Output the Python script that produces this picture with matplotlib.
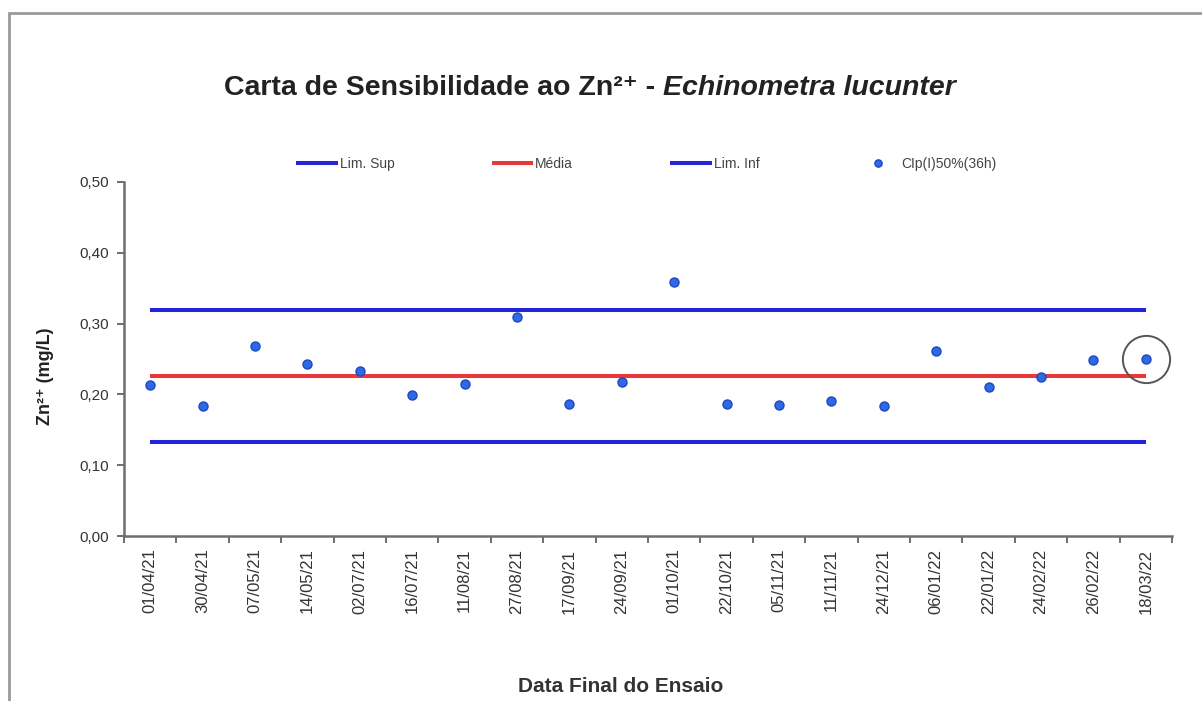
# Carta de sensibilidade ao Zn2+ - Echinometra lucunter
import numpy as np
import matplotlib
matplotlib.use("Agg")
import matplotlib.pyplot as plt
from matplotlib.patches import Rectangle
from matplotlib.ticker import FuncFormatter, FixedLocator

plt.rcParams["font.family"] = ["Liberation Sans", "DejaVu Sans"]

# data
datas = ["01/04/21", "30/04/21", "07/05/21", "14/05/21", "02/07/21",
         "16/07/21", "11/08/21", "27/08/21", "17/09/21", "24/09/21",
         "01/10/21", "22/10/21", "05/11/21", "11/11/21", "24/12/21",
         "06/01/22", "22/01/22", "24/02/22", "26/02/22", "18/03/22"]
cip50 = [0.213, 0.183, 0.268, 0.243, 0.233, 0.199, 0.215, 0.309, 0.187, 0.218,
         0.359, 0.187, 0.185, 0.191, 0.183, 0.262, 0.211, 0.224, 0.248, 0.250]
lim_sup = [0.319] * len(datas)
media = [0.226] * len(datas)
lim_inf = [0.133] * len(datas)

W, H = 1202, 701
fig = plt.figure(figsize=(W / 100, H / 100), dpi=100)
fig.patch.set_facecolor("white")

# gray frame around the chart
fig.add_artist(Rectangle((9 / W, -0.1), 1.5, (H - 13) / H + 0.1,
                         transform=fig.transFigure, fill=False,
                         ec="#9a9a9a", lw=2))

ax = fig.add_axes([124 / W, (H - 536) / H, 1048 / W, 354 / H])
x = np.arange(len(datas))

ax.plot(x, lim_sup, color="#2424d8", lw=2.9, label="Lim. Sup", solid_capstyle="butt")
ax.plot(x, media, color="#e8383a", lw=2.9, label="Média", solid_capstyle="butt")
ax.plot(x, lim_inf, color="#2424d8", lw=2.9, label="Lim. Inf", solid_capstyle="butt")
ax.plot(x, cip50, ls="none", marker="o", ms=6.5, mfc="#2f6ae6", mec="#1d48c0",
        mew=1.0, label="CIp(I)50%(36h)", zorder=5)
# highlighted last result
ax.plot(x[-1:], cip50[-1:], ls="none", marker="o", ms=34, mfc="none",
        mec="#555555", mew=1.4, zorder=6, clip_on=False)

ax.set_xlim(-0.5, len(datas) - 0.5)
ax.set_ylim(0, 0.5)
ax.set_yticks(np.arange(0, 0.51, 0.1))
ax.yaxis.set_major_formatter(FuncFormatter(lambda v, p: f"{v:.2f}".replace(".", ",")))

# ticks between categories, labels at the centres
ax.xaxis.set_major_locator(FixedLocator(np.arange(-0.5, len(datas), 1.0)))
ax.xaxis.set_minor_locator(FixedLocator(x))
ax.set_xticklabels([], minor=False)
ax.set_xticklabels(datas, minor=True, rotation=90, fontsize=12, color="#333333")
ax.tick_params(axis="x", which="minor", length=0, pad=9)
ax.tick_params(axis="x", which="major", length=5, width=1.2, color="#555555",
               direction="out")
ax.tick_params(axis="y", length=5, width=1.2, color="#555555", direction="out",
               labelsize=11, labelcolor="#333333", pad=6)

for s in ["top", "right"]:
    ax.spines[s].set_visible(False)
for s in ["left", "bottom"]:
    ax.spines[s].set_color("#6e6e6e")
    ax.spines[s].set_linewidth(1.8)

# title: regular part + italic species name
t1 = fig.text(0, 1 - 88 / H, "Carta de Sensibilidade ao Zn²⁺ - ",
              ha="left", va="center", fontsize=20.5, fontweight="bold", color="#222222")
t2 = fig.text(0, 1 - 88 / H, "Echinometra lucunter",
              ha="left", va="center", fontsize=20.5, fontstyle="italic",
              fontweight="bold", color="#222222")
r = fig.canvas.get_renderer()
w1 = t1.get_window_extent(r).width
w2 = t2.get_window_extent(r).width
x0 = 590 - (w1 + w2) / 2
t1.set_x(x0 / W)
t2.set_x((x0 + w1) / W)

ax.legend(loc="center", bbox_to_anchor=(646 / W, 1 - 164 / H),
          bbox_transform=fig.transFigure, ncol=4, frameon=False, fontsize=10,
          handlelength=3.0, handletextpad=0.15, columnspacing=7.0,
          labelcolor="#444444", markerscale=0.8)

fig.text(45 / W, 1 - 376 / H, "Zn²⁺ (mg/L)", rotation=90,
         ha="center", va="center", fontsize=13, fontweight="bold", color="#222222")
fig.text(621 / W, 1 - 686 / H, "Data Final do Ensaio",
         ha="center", va="center", fontsize=15, fontweight="bold", color="#333333")

fig.savefig("out.png", dpi=100, facecolor="white")
